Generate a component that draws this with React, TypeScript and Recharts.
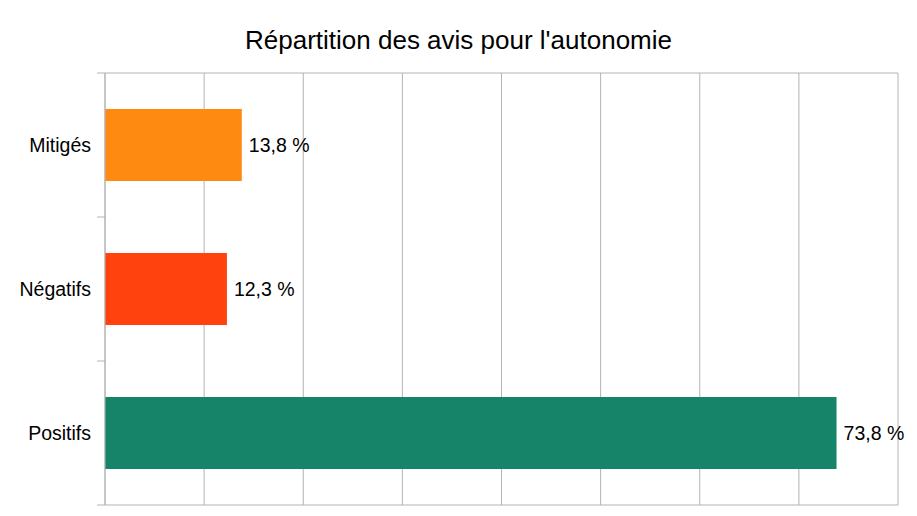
import { BarChart, Bar, XAxis, YAxis, CartesianGrid, Cell, LabelList } from "recharts";

const categories = ["Mitigés", "Négatifs", "Positifs"];
const shares = [13.8, 12.3, 73.8];
const barColors = ["#ff8a12", "#ff420e", "#168468"];
const xTicks = [0, 10, 20, 30, 40, 50, 60, 70, 80];

const data = categories.map((name, i) => ({ name, value: shares[i] }));

const W = 917;
const H = 516;
const margin = { top: 72, right: 19, bottom: 10, left: 0 };
const yAxisWidth = 105;
const band = (H - margin.top - margin.bottom - 2) / categories.length;
const gridColor = "#b3b3b3";
const font = "'Liberation Sans', Arial, sans-serif";

const fmt = (v: number) => v.toFixed(1).replace(".", ",") + " %";

function CatTick(props: any) {
  const { y, payload, index } = props;
  const left = margin.left + yAxisWidth;
  return (
    <g>
      <text x={left - 14} y={y} textAnchor="end" dominantBaseline="central" fontSize={19.5} fill="#000" fontFamily={font}>
        {payload.value}
      </text>
      <line x1={left - 8} x2={left} y1={y - band / 2} y2={y - band / 2} stroke={gridColor} />
      {index === categories.length - 1 && (
        <line x1={left - 8} x2={left} y1={y + band / 2} y2={y + band / 2} stroke={gridColor} />
      )}
    </g>
  );
}

const NoTick = () => <g />;

export default function App() {
  return (
    <div style={{ position: "absolute", left: 0, top: 0, width: W, height: H, background: "#fff", fontFamily: font }}>
      <div
        style={{
          position: "absolute",
          top: 27,
          left: 0,
          width: W,
          textAlign: "center",
          fontSize: 26,
          lineHeight: "26px",
          color: "#000",
        }}
      >
        Répartition des avis pour l'autonomie
      </div>
      <BarChart width={W} height={H} data={data} layout="vertical" margin={margin} barCategoryGap="25%">
        <CartesianGrid horizontal={false} stroke={gridColor} />
        <XAxis
          type="number"
          domain={[0, 80]}
          ticks={xTicks}
          interval={0}
          tick={NoTick}
          tickLine={false}
          height={1}
          axisLine={{ stroke: gridColor }}
        />
        <XAxis
          xAxisId="top"
          orientation="top"
          type="number"
          domain={[0, 80]}
          ticks={xTicks}
          tick={false}
          tickLine={false}
          height={1}
          axisLine={{ stroke: gridColor }}
        />
        <YAxis
          type="category"
          dataKey="name"
          width={yAxisWidth}
          tickLine={false}
          axisLine={{ stroke: gridColor }}
          tick={(p: any) => <CatTick {...p} />}
        />
        <Bar dataKey="value" isAnimationActive={false}>
          {data.map((d, i) => (
            <Cell key={d.name} fill={barColors[i]} />
          ))}
          <LabelList
            dataKey="value"
            position="right"
            offset={7}
            formatter={(v: any) => fmt(Number(v))}
            fill="#000"
            fontSize={19.5}
            fontFamily={font}
          />
        </Bar>
      </BarChart>
    </div>
  );
}
